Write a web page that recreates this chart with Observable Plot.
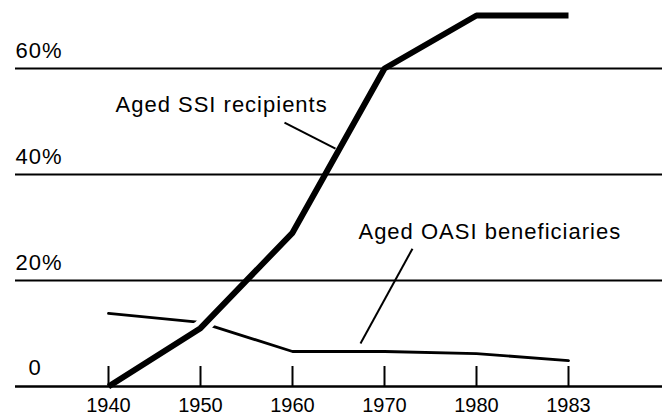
<!DOCTYPE html>
<html>
<head>
<meta charset="utf-8">
<script src="https://cdn.jsdelivr.net/npm/d3@7"></script>
<script src="https://cdn.jsdelivr.net/npm/@observablehq/plot@0.6"></script>
<style>
  html, body { margin: 0; padding: 0; background: #fff; }
  #chart svg { display: block; }
</style>
</head>
<body>
<div id="chart"></div>
<script>
// ---- data ----
const years = ["1940", "1950", "1960", "1970", "1980", "1983"];
const ssiShare = [0, 11, 29, 60, 70, 70];          // Aged SSI recipients (%)
const oasiShare = [13.8, 12.1, 6.6, 6.6, 6.2, 4.9]; // Aged OASI beneficiaries (%)
const gridValues = [20, 40, 60];
const gridLabels = ["20%", "40%", "60%"];
const zeroLabel = "0";
const seriesNames = ["Aged SSI recipients", "Aged OASI beneficiaries"];
// annotation anchors (x in year-slot units, y in percent)
const labelX = [0.076, 2.717];
const labelY = [51.7, 27.9];
const leaderX1 = [1.913, 3.304];
const leaderY1 = [49.8, 26.0];
const leaderX2 = [2.467, 2.739];
const leaderY2 = [44.9, 8.1];

// ---- tables built from the arrays ----
const idx = years.map((_, i) => i);
const ssi = idx.map(i => ({i, v: ssiShare[i]}));
const oasi = idx.map(i => ({i, v: oasiShare[i]}));
const labels = seriesNames.map((name, k) => ({name, x: labelX[k], y: labelY[k]}));
const leaders = seriesNames.map((_, k) => ({x1: leaderX1[k], y1: leaderY1[k], x2: leaderX2[k], y2: leaderY2[k]}));

const font = "'Liberation Sans', Arial, Helvetica, sans-serif";

const chart = Plot.plot({
  width: 665,
  height: 415,
  marginLeft: 15,
  marginRight: 3,
  marginTop: 10,
  marginBottom: 29,
  style: {fontFamily: font, background: "#fff", color: "#000", overflow: "visible"},
  x: {type: "linear", domain: [0, 5], range: [108, 568], label: null},
  y: {type: "linear", domain: [0, 60], range: [386, 68], axis: null},
  marks: [
    Plot.line(oasi, {x: "i", y: "v", stroke: "#000", strokeWidth: 2.8, strokeLinejoin: "round"}),
    Plot.line(ssi, {x: "i", y: "v", stroke: "#fff", strokeWidth: 16, strokeLinecap: "butt", strokeLinejoin: "miter"}),
    Plot.ruleY(gridValues, {stroke: "#000", strokeWidth: 2}),
    Plot.ruleY([0], {stroke: "#000", strokeWidth: 2.5}),
    Plot.axisX({ticks: idx, tickSize: -20, strokeWidth: 2, stroke: "#000", tickFormat: () => "", label: null}),
    Plot.text(idx, {x: d => d, y: 0, text: i => years[i], textAnchor: "middle", lineAnchor: "bottom", dy: 25, fontSize: 20, fill: "#000"}),
    Plot.line(ssi, {x: "i", y: "v", stroke: "#000", strokeWidth: 6, strokeLinecap: "butt", strokeLinejoin: "miter"}),
    Plot.link(leaders, {x1: "x1", y1: "y1", x2: "x2", y2: "y2", stroke: "#000", strokeWidth: 2}),
    Plot.text(gridValues, {y: d => d, text: (d, i) => gridLabels[i], frameAnchor: "left", textAnchor: "start", lineAnchor: "bottom", dy: -11, fontSize: 22, fill: "#000"}),
    Plot.text([zeroLabel], {y: 0, text: d => d, frameAnchor: "left", textAnchor: "start", lineAnchor: "bottom", dx: 13, dy: -12, fontSize: 22, fill: "#000"}),
    Plot.text(labels, {x: "x", y: "y", text: "name", textAnchor: "start", lineAnchor: "bottom", fontSize: 22, fill: "#000"})
  ]
});

d3.select(chart).selectAll('g[aria-label="text"] text')
  .filter(function () { return !/^\d{4}$/.test(this.textContent); })
  .style("letter-spacing", "1px");
document.getElementById("chart").appendChild(chart);
</script>
</body>
</html>
